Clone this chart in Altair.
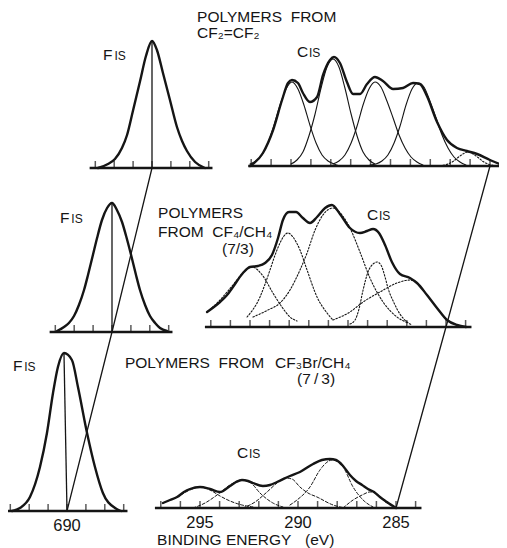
import altair as alt
import pandas as pd

# ------------------------------------------------------------------
# Data: binding energy (eV) and intensity (a.u.)
# ------------------------------------------------------------------
# F1s spectra
F_TOP_E = [692.86, 692.33, 691.96, 691.59, 691.32, 691.01, 690.63, 690.32, 690.00,
           689.74, 689.42, 689.05, 688.68, 688.41, 688.15, 687.72, 687.20]
F_TOP_I = [0, 4, 9, 20, 33, 57, 87, 112, 127, 118, 95, 68, 41, 27, 17, 6, 0]

F_MID_E = [692.91, 692.54, 692.28, 692.01, 691.75, 691.48, 691.27, 691.01, 690.79, 690.53,
           690.26, 690.00, 689.74, 689.47, 689.21, 688.99, 688.73, 688.52, 688.25, 687.99,
           687.72, 687.46, 687.09]
F_MID_I = [1, 5, 9, 16, 27, 42, 57, 77, 94, 112, 124, 129, 122, 110, 93, 77, 57, 42, 27,
           16, 9, 4, 1]

F_BOT_E = [692.91, 692.49, 691.96, 691.43, 691.06, 690.74, 690.48, 690.16, 689.74,
           689.42, 688.94, 688.52, 688.10, 687.46, 687.14]
F_BOT_I = [0, 3, 14, 44, 78, 118, 144, 158, 151, 124, 78, 44, 18, 3, 0]

# apex of each F1s peak (the vertical line)
F_APEX_E = [690.00, 690.00, 690.16]
F_APEX_I = [127, 129, 158]

# C1s, polymers from CF2=CF2
C_TOP_SUM_E = [297.06, 296.41, 295.90, 295.45, 295.15, 294.95, 294.65, 294.40, 294.05,
               293.69, 293.39, 293.04, 292.84, 292.54, 292.19, 291.88, 291.53, 291.18,
               290.78, 290.38, 289.87, 289.37, 288.87, 288.52, 288.17, 287.66, 287.16,
               286.66, 286.16, 285.65, 285.00, 284.50, 284.15]
C_TOP_SUM_I = [0, 13, 36, 66, 83, 86, 83, 73, 64, 69, 91, 106, 109, 103, 84, 72, 72, 82,
               89, 85, 77, 78, 83, 82, 70, 44, 26, 18, 15, 12, 6, 2, 0]
C_TOP_A_E = [297.06, 296.76, 296.46, 296.16, 295.85, 295.55, 295.25, 294.95, 294.65,
             294.35, 294.05, 293.74, 293.44, 293.14, 292.84, 292.54]
C_TOP_A_I = [2, 5, 11, 23, 41, 61, 77, 84, 77, 61, 41, 23, 11, 5, 2, 0]
C_TOP_B_E = [295.00, 294.70, 294.40, 294.10, 293.79, 293.49, 293.19, 292.89, 292.59,
             292.29, 291.98, 291.68, 291.38, 291.08, 290.78]
C_TOP_B_I = [2, 6, 14, 30, 52, 78, 99, 107, 99, 78, 52, 30, 14, 6, 2]
C_TOP_C_E = [292.89, 292.59, 292.29, 291.98, 291.68, 291.38, 291.08, 290.78, 290.48,
             290.18, 289.87, 289.57, 289.27, 288.97, 288.67, 288.37]
C_TOP_C_I = [2, 5, 11, 23, 40, 61, 77, 84, 79, 65, 48, 31, 18, 9, 4, 1]
C_TOP_D_E = [291.03, 290.73, 290.43, 290.13, 289.82, 289.52, 289.22, 288.92, 288.62,
             288.32, 288.02, 287.71, 287.41, 287.11, 286.81, 286.51, 286.21]
C_TOP_D_I = [1, 2, 5, 11, 23, 40, 61, 77, 83, 79, 65, 48, 31, 18, 9, 4, 1]
C_TOP_E_E = [287.36, 287.11, 286.86, 286.61, 286.36, 286.11, 285.85, 285.60, 285.35,
             285.10, 284.85]
C_TOP_E_I = [0.6, 2, 4.5, 8.5, 12, 14, 12, 8.5, 4.5, 2, 0.6]

# C1s, polymers from CF4/CH4 (7/3)
C_MID_SUM_E = [297.19, 296.84, 296.53, 296.17, 295.87, 295.36, 295.00, 294.59, 294.23,
               293.88, 293.57, 293.32, 293.01, 292.65, 292.30, 291.94, 291.58, 291.17,
               290.82, 290.41, 289.90, 289.39, 289.03, 288.72, 288.42, 288.11, 287.76,
               287.35, 286.84, 286.48, 285.97, 285.46, 284.95, 284.44, 283.98]
C_MID_SUM_I = [15, 20, 25, 32, 40, 54, 60, 61, 64, 72, 89, 107, 115, 115, 109, 104, 110,
               119, 122, 113, 99, 94, 96, 98, 94, 82, 65, 53, 49, 44, 32, 19, 7, 2, 0]
C_MID_1_E = [297.19, 296.53, 295.87, 295.36, 294.90, 294.34, 293.83, 293.37, 292.96, 292.60]
C_MID_1_I = [15, 27, 42, 54, 60, 51, 34, 20, 10, 6]
C_MID_2_E = [295.15, 294.49, 294.23, 293.98, 293.72, 293.47, 293.27, 293.06, 292.81,
             292.45, 292.09, 291.58, 291.07, 290.77]
C_MID_2_I = [10, 30, 43, 57, 72, 84, 91, 94, 90, 77, 57, 30, 14, 7]
C_MID_3_E = [294.85, 294.08, 293.47, 292.96, 292.45, 292.09, 291.68, 291.28, 290.77,
             290.31, 289.90, 289.39, 288.88, 288.21, 287.50, 286.94]
C_MID_3_I = [10, 17, 24, 37, 57, 74, 97, 112, 119, 112, 99, 75, 49, 25, 10, 4]
C_MID_5_E = [289.90, 289.64, 289.44, 289.23, 288.98, 288.72, 288.52, 288.32, 288.11,
             287.96, 287.65, 287.35, 286.99, 286.73]
C_MID_5_I = [3, 7, 18, 37, 55, 63, 65, 62, 50, 39, 24, 13, 5, 2]
C_MID_6_E = [290.77, 289.90, 289.23, 288.37, 287.50, 286.84, 286.48, 285.97, 285.46,
             284.95, 284.44]
C_MID_6_I = [7, 15, 25, 35, 44, 47, 44, 32, 19, 7, 2]

# C1s, polymers from CF3Br/CH4 (7/3)
C_BOT_SUM_E = [296.89, 296.53, 296.17, 295.82, 295.51, 295.00, 294.49, 293.98, 293.47,
               293.16, 292.86, 292.55, 292.30, 291.79, 291.43, 291.07, 290.41, 289.90,
               289.23, 288.78, 288.37, 288.06, 287.70, 287.35, 287.04, 286.73, 286.43,
               286.12, 285.82, 285.46, 285.00]
C_BOT_SUM_I = [5, 8, 11, 16, 19, 21, 19, 16, 22, 26, 28, 27, 25, 22, 23, 26, 32, 36, 44,
               48, 49, 48, 42, 33, 27, 23, 19, 16, 11, 6, 0]
C_BOT_1_E = [296.89, 296.17, 295.51, 295.00, 294.49, 293.98, 293.47, 292.86, 292.30]
C_BOT_1_I = [5, 11, 18, 21, 18, 12, 7, 3, 1]
C_BOT_2_E = [295.36, 294.74, 294.13, 293.47, 292.86, 292.40, 291.94, 291.28, 290.77]
C_BOT_2_I = [0, 5, 13, 23, 28, 25, 15, 5, 1]
C_BOT_3_E = [292.81, 292.19, 291.58, 291.07, 290.66, 290.31, 289.90, 289.49, 289.03,
             288.21, 287.60]
C_BOT_3_I = [0, 6, 16, 25, 30, 29, 21, 15, 11, 3, 0]
C_BOT_4_E = [290.41, 290.05, 289.39, 288.88, 288.57, 288.27, 287.96, 287.70, 287.19,
             286.68, 286.17]
C_BOT_4_I = [3, 8, 21, 38, 45, 48, 46, 41, 21, 8, 1]
C_BOT_5_E = [287.70, 287.19, 286.73, 286.33, 285.97, 285.66, 285.31, 285.00]
C_BOT_5_I = [0, 8, 13, 16, 14, 8, 3, 0]

# axis ticks (eV) and labelled values
F_TICKS = [693, 692, 691, 690, 689, 688, 687]
C_TICKS_TOP = [297, 296, 295, 294, 293, 292, 291, 290, 289, 288, 287, 286, 285]
C_TICKS = [297, 296, 295, 294, 293, 292, 291, 290, 289, 288, 287, 286, 285, 284]
F_LABELS = [690]
C_LABELS = [295, 290, 285]

# ------------------------------------------------------------------
# Layout of the six panels (where each energy axis sits on the page)
# ------------------------------------------------------------------
LAYOUT = pd.DataFrame([
    dict(panel="F1", Eref=690, xref=152, k=18.9, base=168, lo=693.3, hi=686.8),
    dict(panel="F2", Eref=690, xref=112, k=18.9, base=332, lo=693.3, hi=686.8),
    dict(panel="F3", Eref=690, xref=67, k=18.9, base=511, lo=693.3, hi=686.8),
    dict(panel="C1", Eref=285, xref=490, k=19.9, base=166, lo=297.15, hi=283.7),
    dict(panel="C2", Eref=285, xref=446, k=19.6, base=327, lo=297.3, hi=283.7),
    dict(panel="C3", Eref=285, xref=396, k=19.6, base=508, lo=297.3, hi=283.7),
])
FIELDS = ["Eref", "xref", "k", "base", "lo", "hi"]

W, H = 491, 540
XS = alt.Scale(domain=[8, 8 + W], nice=False, zero=False)
YS = alt.Scale(domain=[8, 8 + H], nice=False, zero=False, reverse=True)
INK = "#151515"
FONT = "Liberation Sans"


def placed(df):
    return (alt.Chart(df)
            .transform_lookup(lookup="panel",
                              from_=alt.LookupData(LAYOUT, "panel", FIELDS))
            .transform_calculate(px="datum.xref + (datum.Eref - datum.E) * datum.k",
                                 py="datum.base - datum.I"))


def X(f="px"):
    return alt.X(f + ":Q", scale=XS, axis=None)


def Y(f="py"):
    return alt.Y(f + ":Q", scale=YS, axis=None)


def curves(items):
    rows = []
    for name, panel, Es, Is in items:
        for i, (e, v) in enumerate(zip(Es, Is)):
            rows.append(dict(curve=name, panel=panel, E=e, I=v, o=i))
    return pd.DataFrame(rows)


main_df = curves([
    ("f1", "F1", F_TOP_E, F_TOP_I), ("f2", "F2", F_MID_E, F_MID_I),
    ("f3", "F3", F_BOT_E, F_BOT_I),
    ("c1", "C1", C_TOP_SUM_E, C_TOP_SUM_I), ("c2", "C2", C_MID_SUM_E, C_MID_SUM_I),
    ("c3", "C3", C_BOT_SUM_E, C_BOT_SUM_I),
])
solid_df = curves([
    ("a", "C1", C_TOP_A_E, C_TOP_A_I), ("b", "C1", C_TOP_B_E, C_TOP_B_I),
    ("c", "C1", C_TOP_C_E, C_TOP_C_I), ("d", "C1", C_TOP_D_E, C_TOP_D_I),
])
dot_df = curves([
    ("e", "C1", C_TOP_E_E, C_TOP_E_I),
    ("m1", "C2", C_MID_1_E, C_MID_1_I), ("m2", "C2", C_MID_2_E, C_MID_2_I),
    ("m3", "C2", C_MID_3_E, C_MID_3_I), ("m5", "C2", C_MID_5_E, C_MID_5_I),
    ("m6", "C2", C_MID_6_E, C_MID_6_I),
])
dash_df = curves([
    ("b1", "C3", C_BOT_1_E, C_BOT_1_I), ("b2", "C3", C_BOT_2_E, C_BOT_2_I),
    ("b3", "C3", C_BOT_3_E, C_BOT_3_I), ("b4", "C3", C_BOT_4_E, C_BOT_4_I),
    ("b5", "C3", C_BOT_5_E, C_BOT_5_I),
])


def line_layer(df, width, dash=None):
    kw = dict(interpolate="monotone", strokeWidth=width, color=INK,
              strokeCap="round", strokeJoin="round")
    if dash:
        kw["strokeDash"] = dash
    return placed(df).mark_line(**kw).encode(
        x=X(), y=Y(), detail="curve:N", order="o:Q")


# ticks
tick_rows = []
for p in ["F1", "F2", "F3"]:
    tick_rows += [dict(panel=p, E=t, I=0) for t in F_TICKS]
tick_rows += [dict(panel="C1", E=t, I=0) for t in C_TICKS_TOP]
for p in ["C2", "C3"]:
    tick_rows += [dict(panel=p, E=t, I=0) for t in C_TICKS]
ticks = placed(pd.DataFrame(tick_rows)).mark_tick(
    orient="vertical", size=7, thickness=1.5, yOffset=-3.5, color=INK
).encode(x=X(), y=Y())

# baselines
base_df = pd.DataFrame([dict(panel=p, E=0, I=0) for p in LAYOUT["panel"]])
baselines = placed(base_df).transform_calculate(
    x0="datum.xref + (datum.Eref - datum.lo) * datum.k",
    x1="datum.xref + (datum.Eref - datum.hi) * datum.k",
).mark_rule(strokeWidth=2.4, color=INK).encode(x=X("x0"), x2="x1:Q", y=Y())

# vertical line from each F1s apex to 690 eV
apex_df = pd.DataFrame([dict(panel=p, E=e, I=v, E0=690)
                        for p, e, v in zip(["F1", "F2", "F3"], F_APEX_E, F_APEX_I)])
apex = placed(apex_df).transform_calculate(
    bx="datum.xref + (datum.Eref - datum.E0) * datum.k", by="datum.base"
).mark_rule(strokeWidth=1.3, color=INK).encode(x=X(), y=Y(), x2="bx:Q", y2="by:Q")

# connecting lines through 690 eV (F1s) and 285 eV (C1s)
conn_rows = [dict(line="F", panel=p, E=690, I=0, o=i) for i, p in enumerate(["F1", "F2", "F3"])]
conn_rows += [dict(line="C", panel=p, E=285, I=0, o=i) for i, p in enumerate(["C1", "C2", "C3"])]
connectors = placed(pd.DataFrame(conn_rows)).mark_line(
    strokeWidth=1.3, color=INK).encode(x=X(), y=Y(), detail="line:N", order="o:Q")

# text labels (anchored in each panel's energy / intensity coordinates)
big_labels = pd.DataFrame([
    dict(panel="F1", E=692.59, I=108, text="F"),
    dict(panel="F2", E=692.75, I=109, text="F"),
    dict(panel="F3", E=692.86, I=140, text="F"),
    dict(panel="C1", E=294.70, I=109, text="C"),
    dict(panel="C2", E=289.03, I=107, text="C"),
    dict(panel="C3", E=293.11, I=50, text="C"),
    dict(panel="C1", E=299.72, I=144, text="POLYMERS\u00a0\u00a0FROM"),
    dict(panel="C1", E=299.72, I=128, text="CF\u2082=CF\u2082"),
    dict(panel="C2", E=299.69, I=109, text="POLYMERS"),
    dict(panel="C2", E=299.69, I=90, text="FROM\u00a0\u00a0CF\u2084/CH\u2084"),
    dict(panel="C2", E=296.43, I=73, text="(7/3)"),
    dict(panel="C3", E=298.83, I=140, text="POLYMERS\u00a0\u00a0FROM"),
    dict(panel="C3", E=291.17, I=140, text="CF\u2083Br/CH\u2084"),
    dict(panel="C3", E=290.05, I=124, text="(7\u2009/\u20093)"),
    dict(panel="C3", E=297.19, I=-37, text="BINDING\u00a0ENERGY"),
    dict(panel="C3", E=289.64, I=-37, text="(eV)"),
])
small_labels = pd.DataFrame([
    dict(panel="F1", E=691.99, I=108, text="IS"),
    dict(panel="F2", E=692.15, I=109, text="IS"),
    dict(panel="F3", E=692.26, I=140, text="IS"),
    dict(panel="C1", E=294.10, I=109, text="IS"),
    dict(panel="C2", E=288.42, I=107, text="IS"),
    dict(panel="C3", E=292.50, I=50, text="IS"),
])
big_text = placed(big_labels).mark_text(
    align="left", baseline="alphabetic", font=FONT, fontSize=15.5, color=INK
).encode(x=X(), y=Y(), text="text:N")
small_text = placed(small_labels).mark_text(
    align="left", baseline="alphabetic", font=FONT, fontSize=12, color=INK
).encode(x=X(), y=Y(), text="text:N")

num_df = pd.DataFrame([dict(panel="F3", E=v, I=0, text=str(v)) for v in F_LABELS] +
                      [dict(panel="C3", E=v, I=0, text=str(v)) for v in C_LABELS])
num_text = placed(num_df).mark_text(
    align="center", baseline="alphabetic", dy=20, font=FONT, fontSize=16.5, color=INK
).encode(x=X(), y=Y(), text="text:N")

chart = alt.layer(
    baselines, ticks,
    line_layer(solid_df, 1.1),
    line_layer(dot_df, 1.1, [1.5, 1.8]),
    line_layer(dash_df, 1.0, [3, 2]),
    line_layer(main_df, 2.4),
    apex, connectors,
    big_text, small_text, num_text,
).properties(
    width=W, height=H, padding=0, autosize=alt.AutoSizeParams(type="none"),
    background="white"
).configure_view(stroke=None)

chart.save("out.html", embed_options={"renderer": "svg", "actions": False})
